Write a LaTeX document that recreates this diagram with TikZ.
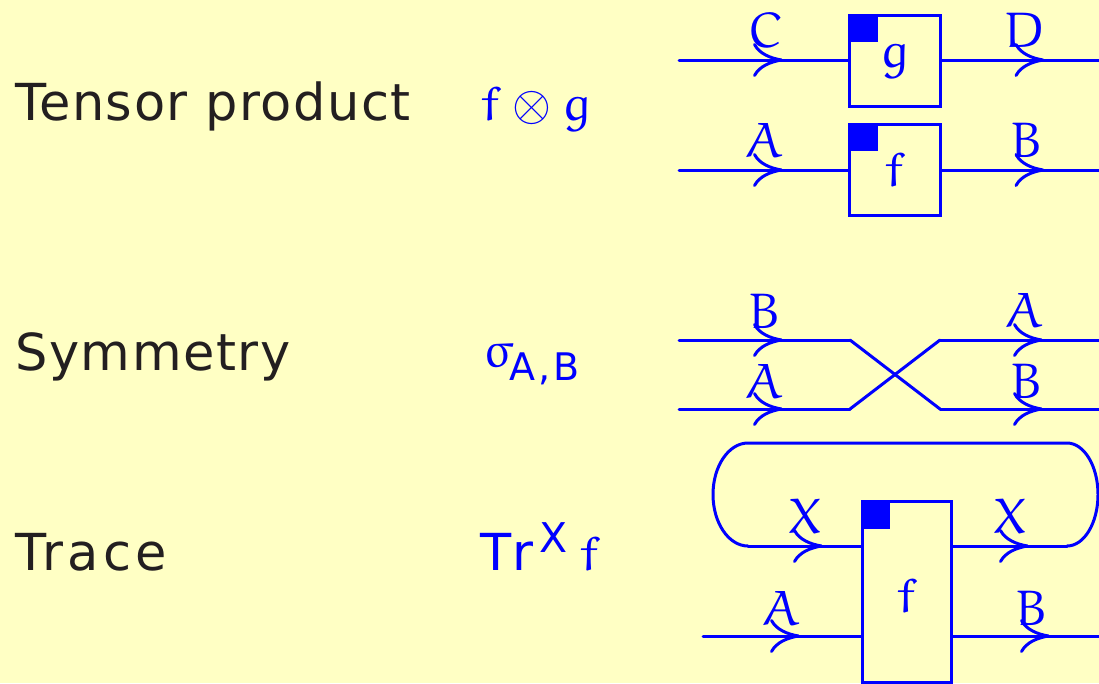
\RequirePackage{fix-cm}
\documentclass[tikz,border=0pt]{standalone}
\usepackage{amssymb}
\usepackage{fontspec}
\newfontfamily\titlefont[LetterSpace=3]{DejaVu Sans}
\newfontfamily\widesans[LetterSpace=8]{DejaVu Sans}
\newfontfamily\sansf{DejaVu Sans}
\IfFileExists{ueur.fd}{\DeclareMathAlphabet{\eu}{U}{eur}{m}{n}}{\newcommand{\eu}[1]{\mathrm{#1}}}
\usetikzlibrary{arrows.meta,decorations.markings}
\definecolor{bg}{RGB}{255,255,196}
\definecolor{ink}{RGB}{35,31,32}
\definecolor{wireblue}{RGB}{0,0,255}
\begin{document}
\begin{tikzpicture}[x=1pt,y=-1pt,
  wire/.style={draw=wireblue, line width=3pt, line cap=round},
  arrowat/.style={postaction={decorate}, decoration={markings, mark=at position #1 with {\arrow[wireblue,line width=3pt]{Computer Modern Rightarrow[length=30pt,width=34pt]}}}},
  gate/.style={draw=wireblue, line width=3pt, minimum width=91pt, minimum height=91pt, inner sep=0pt, text=wireblue, font=\fontsize{50}{60}\selectfont},
  lab/.style={text=wireblue, anchor=base, inner sep=0pt, font=\fontsize{50}{60}\selectfont},
  title/.style={text=ink, anchor=base west, inner sep=0pt, font=\titlefont\fontsize{51}{60}\selectfont},
  mathlab/.style={text=wireblue, anchor=base west, inner sep=0pt, font=\fontsize{50}{60}\selectfont},
]
\fill[bg] (0,0) rectangle (1099,683);
\useasboundingbox (0,0) rectangle (1099,683);

% titles
\node[title] (t1) at (15,120) {Tensor product};
\node[title] (t2) at (15,370) {Symmetry};
\node[title, font=\widesans\fontsize{51}{60}\selectfont] (t3) at (15,570) {Trace};
\node[mathlab] (m1) at (480,120) {$\eu{f}\otimes\eu{g}$};
\node[mathlab] (m2) at (483,367) {$\eu{\mathchar"711B}$\kern-4pt\raisebox{-13pt}{\widesans\fontsize{38}{40}\selectfont A,B}};
\node[mathlab] (m3) at (480,570) {{\sansf\fontsize{51}{60}\selectfont T\kern1pt r}\kern6pt\raisebox{18pt}{\sansf\fontsize{41}{45}\selectfont X}\kern12pt$\eu{f}$};

% tensor product
\node[gate] (g) at (894.5,60.5) {$\eu{g}$};
\node[gate] (f) at (894.5,169.5) {$\eu{f}$};
\fill[wireblue] (g.north west) rectangle ++(30,28);
\fill[wireblue] (f.north west) rectangle ++(30,28);
\coordinate (cin) at (679,60);
\coordinate (dout) at (1100,60);
\coordinate (ain) at (679,170);
\coordinate (bout) at (1100,170);
\draw[wire, arrowat=104pt] (cin) -- (g.west |- cin);
\draw[wire, arrowat=103pt] (g.east |- dout) -- (dout);
\draw[wire, arrowat=104pt] (ain) -- (f.west |- ain);
\draw[wire, arrowat=103pt] (f.east |- bout) -- (bout);
\node[lab] (lC) at (765,47) {$\eu{C}$};
\node[lab] (lD) at (1025,47) {$\eu{D}$};
\node[lab] (lA) at (765,157) {$\eu{A}$};
\node[lab] (lB) at (1027,157) {$\eu{B}$};

% symmetry
\coordinate (sBin) at (679,340);
\coordinate (sBa) at (850,340);
\coordinate (sBb) at (940,409);
\coordinate (sBout) at (1100,409);
\coordinate (sAin) at (679,409);
\coordinate (sAa) at (850,409);
\coordinate (sAb) at (940,340);
\coordinate (sAout) at (1100,340);
\draw[wire, arrowat=104pt] (sBin) -- (sBa);
\draw[wire] (sBa) -- (sBb);
\draw[wire, arrowat=103pt] (sBb) -- (sBout);
\draw[wire, arrowat=104pt] (sAin) -- (sAa);
\draw[wire] (sAa) -- (sAb);
\draw[wire, arrowat=103pt] (sAb) -- (sAout);
\node[lab] (sl1) at (765,328) {$\eu{B}$};
\node[lab] (sl2) at (765,398) {$\eu{A}$};
\node[lab] (sl3) at (1025,327) {$\eu{A}$};
\node[lab] (sl4) at (1027,398) {$\eu{B}$};

% trace
\node[gate, minimum width=89.5pt, minimum height=181pt] (tf) at (906.75,591.5) {};
\fill[wireblue] (tf.north west) rectangle ++(29,29);
\node[lab] (tfl) at (907,612) {$\eu{f}$};
\coordinate (xl) at (748,546);
\coordinate (xlt) at (748,443);
\coordinate (xr) at (1067,546);
\draw[wire, arrowat=75pt] (xl) -- (tf.west |- xl);
\draw[wire, arrowat=76pt] (tf.east |- xr) -- (xr);
\draw[wire] (xr) arc[start angle=90, end angle=-90, x radius=31, y radius=51.5]
  -- (xlt) arc[start angle=270, end angle=90, x radius=35, y radius=51.5];
\coordinate (tain) at (703,636);
\coordinate (tbout) at (1100,636);
\draw[wire, arrowat=97pt] (tain) -- (tf.west |- tain);
\draw[wire, arrowat=97pt] (tf.east |- tbout) -- (tbout);
\node[lab] (tx1) at (805,533) {$\eu{X}$};
\node[lab] (tx2) at (1010,533) {$\eu{X}$};
\node[lab] (ta) at (782,625) {$\eu{A}$};
\node[lab] (tb) at (1032,625) {$\eu{B}$};
\end{tikzpicture}
\end{document}
